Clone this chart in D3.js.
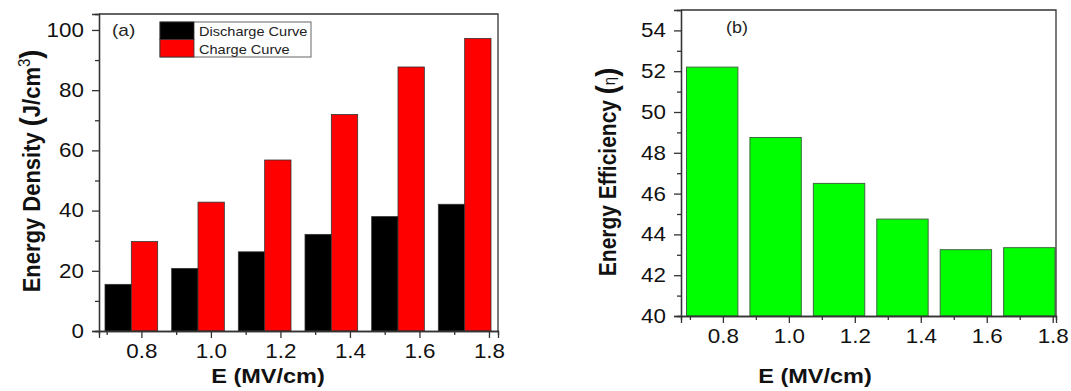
<!DOCTYPE html>
<html>
<head>
<meta charset="utf-8">
<script src="https://cdn.jsdelivr.net/npm/d3@7"></script>
<style>
  body { margin: 0; background: #fff; }
  svg { display: block; font-family: "Liberation Sans", Arial, sans-serif; }
  .axis path, .axis line { stroke: #333; stroke-width: 1.3; }
  .axis text { fill: #111; font-size: 20px; }
</style>
</head>
<body>
<svg width="1071" height="391"></svg>
<script>
const fields = [0.8, 1.0, 1.2, 1.4, 1.6, 1.8];
const discharge = [15.5, 20.8, 26.3, 32.1, 38.0, 42.1];
const charge = [29.7, 42.8, 56.8, 71.9, 87.7, 97.2];
const efficiency = [52.2, 48.75, 46.5, 44.75, 43.25, 43.35];
const seriesNames = ["Discharge Curve", "Charge Curve"];
const seriesColors = ["#000000", "#ff0000"];

const xMajor = [0.8, 1.0, 1.2, 1.4, 1.6, 1.8];
const xMinor = [0.7, 0.9, 1.1, 1.3, 1.5, 1.7];
const yMajorA = [0, 20, 40, 60, 80, 100];
const yMinorA = [10, 30, 50, 70, 90];
const yMajorB = [40, 42, 44, 46, 48, 50, 52, 54];
const yMinorB = [41, 43, 45, 47, 49, 51, 53];

const svg = d3.select("svg");
const stretch = 1.12;
const fmt = d3.format(".1f");

// panel (a)
const A = { left: 99, right: 498, top: 14, bottom: 331 };
const xA = d3.scaleLinear().domain([0.678, 1.826]).range([A.left, A.right]);
const yA = d3.scaleLinear().domain([0, 105.3]).range([A.bottom, A.top]);
const bandA = d3.scaleBand().domain(fields).range([105, 491]).paddingInner(0.21);
const subA = d3.scaleBand().domain([0, 1]).range([0, bandA.bandwidth()]);

// panel (b)
const B = { left: 681, right: 1056, top: 10, bottom: 316 };
const xB = d3.scaleLinear().domain([0.673, 1.81]).range([B.left, B.right]);
const yB = d3.scaleLinear().domain([40, 55]).range([B.bottom, B.top]);
const bandB = d3.scaleBand().domain(fields).range([686.5, 1055]).paddingInner(0.19);

// bars (a)
const groupsA = svg.append("g")
  .selectAll("g")
  .data(fields)
  .enter()
  .append("g")
  .attr("transform", d => "translate(" + bandA(d) + ",0)");

[discharge, charge].forEach((vals, s) => {
  groupsA.append("rect")
    .attr("x", subA(s))
    .attr("y", (d, i) => yA(vals[i]))
    .attr("width", subA.bandwidth())
    .attr("height", (d, i) => yA(0) - yA(vals[i]))
    .attr("fill", seriesColors[s])
    .attr("stroke", "#333")
    .attr("stroke-width", 0.8);
});

// bars (b)
svg.append("g")
  .selectAll("rect")
  .data(fields)
  .enter()
  .append("rect")
  .attr("x", d => bandB(d))
  .attr("y", (d, i) => yB(efficiency[i]))
  .attr("width", bandB.bandwidth())
  .attr("height", (d, i) => yB(40) - yB(efficiency[i]))
  .attr("fill", "#00ff00")
  .attr("stroke", "#3d6b3d")
  .attr("stroke-width", 1);

function drawAxes(P, x, y, yMajor, yMinor) {
  // frame top/right
  svg.append("path")
    .attr("d", "M" + P.left + "," + P.top + "H" + P.right + "V" + P.bottom)
    .attr("fill", "none").attr("stroke", "#333").attr("stroke-width", 1.3);

  svg.append("g").attr("class", "axis")
    .attr("transform", "translate(0," + P.bottom + ")")
    .call(d3.axisBottom(x).tickValues(xMinor).tickSize(4).tickFormat(""));
  const gx = svg.append("g").attr("class", "axis")
    .attr("transform", "translate(0," + P.bottom + ")")
    .call(d3.axisBottom(x).tickValues(xMajor).tickSize(7).tickPadding(6).tickFormat(fmt));
  gx.selectAll("text").attr("transform", "scale(" + stretch + ",1)");

  svg.append("g").attr("class", "axis")
    .attr("transform", "translate(" + P.left + ",0)")
    .call(d3.axisLeft(y).tickValues(yMinor).tickSize(4).tickFormat(""));
  const gy = svg.append("g").attr("class", "axis")
    .attr("transform", "translate(" + P.left + ",0)")
    .call(d3.axisLeft(y).tickValues(yMajor).tickSize(7).tickPadding(6.5));
  gy.selectAll("text").attr("transform", "scale(" + stretch + ",1)");
}

drawAxes(A, xA, yA, yMajorA, yMinorA);
drawAxes(B, xB, yB, yMajorB, yMinorB);

// axis titles
[[268, 383], [815, 383]].forEach(p => {
  svg.append("text")
    .attr("transform", "translate(" + p[0] + "," + p[1] + ") scale(" + stretch + ",1)")
    .attr("text-anchor", "middle")
    .attr("font-size", 21)
    .attr("font-weight", "bold")
    .attr("fill", "#111")
    .text("E (MV/cm)");
});

const titleA = svg.append("text")
  .attr("transform", "translate(40,171) rotate(-90) scale(1," + stretch + ")")
  .attr("text-anchor", "middle")
  .attr("font-size", 22)
  .attr("font-weight", "bold")
  .attr("fill", "#111");
titleA.append("tspan").text("Energy Density ");
titleA.append("tspan").attr("font-size", 27).attr("dy", 1).text("(");
titleA.append("tspan").attr("dy", -1).text("J/cm");
titleA.append("tspan").attr("font-size", 15).attr("font-weight", "normal").attr("dy", -9).text("3");
titleA.append("tspan").attr("font-size", 27).attr("dy", 10).text(")");

const titleB = svg.append("text")
  .attr("transform", "translate(616,172) rotate(-90) scale(1," + stretch + ")")
  .attr("text-anchor", "middle")
  .attr("font-size", 21)
  .attr("font-weight", "bold")
  .attr("fill", "#111");
titleB.append("tspan").text("Energy Efficiency ");
titleB.append("tspan").attr("font-size", 27).attr("dy", 1).text("(");
titleB.append("tspan").attr("font-size", 15).attr("font-weight", "normal").attr("dy", -2).text("η");
titleB.append("tspan").attr("font-size", 27).attr("dy", 2).text(")");

// panel letters
svg.append("text").attr("transform", "translate(112,36) scale(" + stretch + ",1)")
  .attr("font-size", 17).attr("fill", "#222").text("(a)");
svg.append("text").attr("transform", "translate(726,33) scale(" + stretch + ",1)")
  .attr("font-size", 16).attr("fill", "#222").text("(b)");

// legend
const legend = svg.append("g").attr("transform", "translate(160,22)");
legend.append("rect")
  .attr("width", 151).attr("height", 35)
  .attr("fill", "#fff").attr("stroke", "#666").attr("stroke-width", 1);
const items = legend.selectAll("g.item")
  .data(seriesNames)
  .enter()
  .append("g")
  .attr("class", "item")
  .attr("transform", (d, i) => "translate(0," + i * 17.5 + ")");
items.append("rect")
  .attr("width", 34).attr("height", 17.5)
  .attr("fill", (d, i) => seriesColors[i])
  .attr("stroke", "#333").attr("stroke-width", 0.8);
items.append("text")
  .attr("transform", "translate(39,14) scale(" + stretch + ",1)")
  .attr("font-size", 13)
  .attr("fill", "#222")
  .text(d => d);
</script>
</body>
</html>
